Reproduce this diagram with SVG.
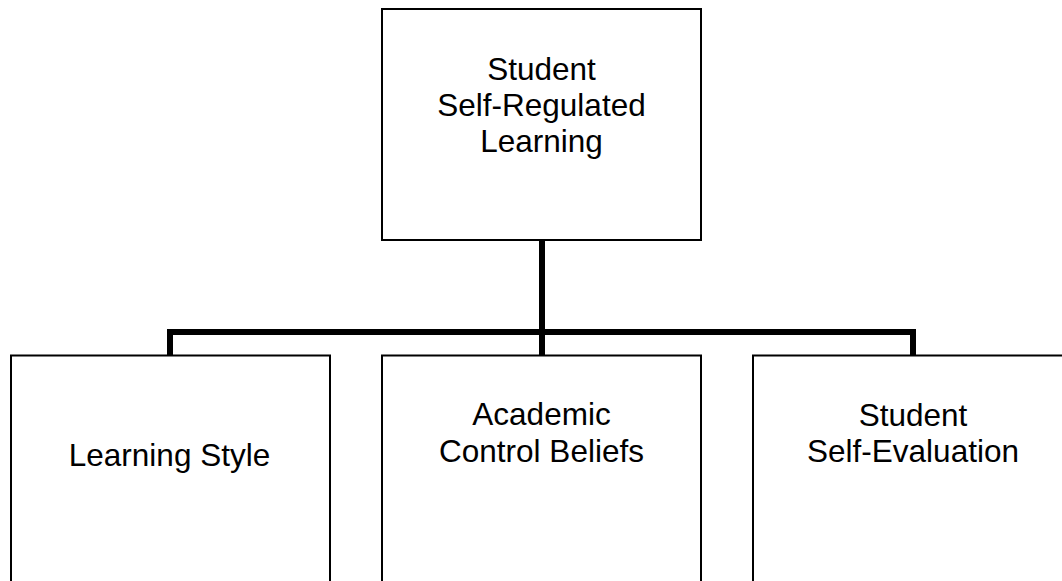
<svg xmlns="http://www.w3.org/2000/svg" width="1062" height="581" viewBox="0 0 1062 581">
<style>
.box{fill:#fff;stroke:#000;stroke-width:2}
.lbl{font-family:"Liberation Sans",Arial,sans-serif;font-size:31.5px;fill:#000;text-anchor:middle}
.conn{fill:none;stroke:#000;stroke-width:6;stroke-linejoin:miter;stroke-linecap:butt}
</style>
<rect width="1062" height="581" fill="#fff"/>
<g id="connectors">
<path class="conn" d="M542,240 V356"/>
<path class="conn" d="M170,356 V332 H913 V356"/>
</g>
<g id="node-top">
<rect class="box" x="382" y="9" width="319" height="231"/>
<text class="lbl" x="541.5" y="80">Student</text>
<text class="lbl" x="541.5" y="116">Self-Regulated</text>
<text class="lbl" x="541.5" y="152">Learning</text>
</g>
<g id="node-learning-style">
<rect class="box" x="11" y="355.5" width="319" height="240"/>
<text class="lbl" x="169.5" y="466">Learning Style</text>
</g>
<g id="node-academic-control">
<rect class="box" x="382" y="355.5" width="319" height="240"/>
<text class="lbl" x="541.5" y="425">Academic</text>
<text class="lbl" x="541.5" y="461.5">Control Beliefs</text>
</g>
<g id="node-self-evaluation">
<rect class="box" x="753" y="355.5" width="319" height="240"/>
<text class="lbl" x="913" y="425.5">Student</text>
<text class="lbl" x="913" y="462">Self-Evaluation</text>
</g>
</svg>
